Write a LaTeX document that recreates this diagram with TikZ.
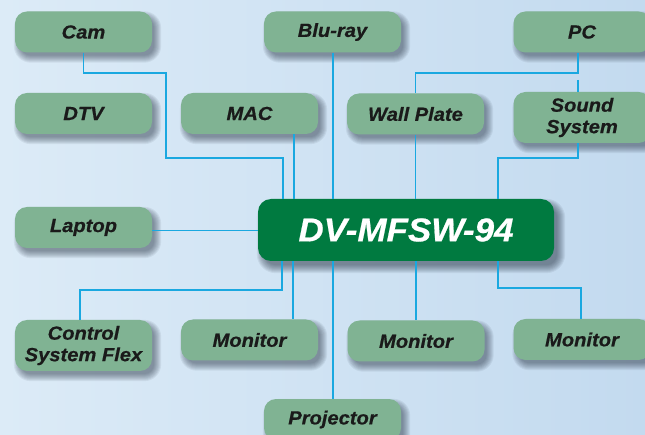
\documentclass[tikz,border=0pt]{standalone}
\usepackage{fontspec}
\setmainfont{Liberation Sans}[BoldItalicFeatures={FakeBold=0.6,FakeStretch=1.06}]
\usetikzlibrary{calc,backgrounds}
\definecolor{bgL}{HTML}{DCEBF7}
\definecolor{bgR}{HTML}{C3DAEF}
\definecolor{boxg}{HTML}{80B393}
\definecolor{maing}{HTML}{007A40}
\definecolor{wirec}{HTML}{1AA8E0}
\definecolor{txt}{HTML}{1A1A1A}
\definecolor{shadc}{HTML}{1E2A3A}
\tikzset{
  dev/.style={rectangle, rounded corners=12pt, fill=boxg, minimum width=137pt,
    minimum height=41pt, inner sep=0pt, align=center, text=txt,
    font=\fontsize{19}{21.5}\selectfont\bfseries\itshape},
  hub/.style={rectangle, rounded corners=13pt, fill=maing, minimum width=296pt,
    minimum height=62pt, inner sep=0pt, text=white,
    font=\fontsize{33}{36}\selectfont\bfseries\itshape},
  wire/.style={draw=wirec, line width=1.3pt},
  shadowlayer/.style={fill=shadc, opacity=0.07}
}
\begin{document}
\begin{tikzpicture}[x=1pt,y=-1pt]
\useasboundingbox (0,0) rectangle (645,435);
\node[dev] (cam) at (83.5,32) {Cam};
\node[dev] (bluray) at (332.5,32) {Blu-ray};
\node[dev] (pc) at (582,32) {PC};
\node[dev] (dtv) at (83.5,113.5) {DTV};
\node[dev] (mac) at (249.5,113.5) {MAC};
\node[dev] (wall) at (415.5,114) {Wall Plate};
\node[dev, minimum height=51pt] (sound) at (582,117.5) {Sound\\System};
\node[dev] (laptop) at (83.5,227.5) {Laptop};
\node[hub] (main) at (406,230) {DV-MFSW-94};
\node[dev, minimum height=51pt] (ctrl) at (83.5,345.5) {Control\\System Flex};
\node[dev] (mon1) at (249.5,340) {Monitor};
\node[dev] (mon2) at (416,341) {Monitor};
\node[dev] (mon3) at (582,339.5) {Monitor};
\node[dev] (proj) at (332.5,419.5) {Projector};
\coordinate (stub) at (578,80);
\begin{scope}[on background layer]
  \shade[left color=bgL, right color=bgR] (0,0) rectangle (645,435);
  \foreach \n in {cam,bluray,pc,dtv,mac,wall,sound,laptop,ctrl,mon1,mon2,mon3,proj}{
    \foreach \e in {-2,-1,...,5}{
      \pgfmathsetmacro\rr{12+\e}
      \fill[shadowlayer, rounded corners=\rr pt]
        ($(\n.north west)+(4-\e,5-\e)$) rectangle ($(\n.south east)+(4+\e,5+\e)$);
    }
  }
  \foreach \e in {-2,-1,...,6}{
    \pgfmathsetmacro\rr{13+\e}
    \fill[shadowlayer, rounded corners=\rr pt]
      ($(main.north west)+(5-\e,6-\e)$) rectangle ($(main.south east)+(5+\e,6+\e)$);
  }
\end{scope}
% top connectors
\draw[wire] (cam.south) |- (166,73) |- (283,158) -- (283,0 |- main.north);
\draw[wire] (294,0 |- mac.south) -- (294,0 |- main.north);
\draw[wire] (333,0 |- bluray.south) -- (333,0 |- main.north);
\draw[wire] (wall.south) -- (wall.south |- main.north);
\draw[wire] (578,0 |- pc.south) |- (415.5,73) -- (wall.north);
\draw[wire] (stub) -- (stub |- sound.north);
\draw[wire] (578,0 |- sound.south) |- (498,158) -- (498,0 |- main.north);
% side
\draw[wire] ([yshift=-3pt]laptop.east) -- ([yshift=-3pt]laptop.east -| main.west);
% bottom connectors
\draw[wire] (282,0 |- main.south) |- (80,290) -- (80,0 |- ctrl.north);
\draw[wire] (293,0 |- main.south) -- (293,0 |- mon1.north);
\draw[wire] (333,0 |- main.south) -- (333,0 |- proj.north);
\draw[wire] (mon2.north |- main.south) -- (mon2.north);
\draw[wire] (498,0 |- main.south) |- (581,288) -- (581,0 |- mon3.north);
\end{tikzpicture}
\end{document}
